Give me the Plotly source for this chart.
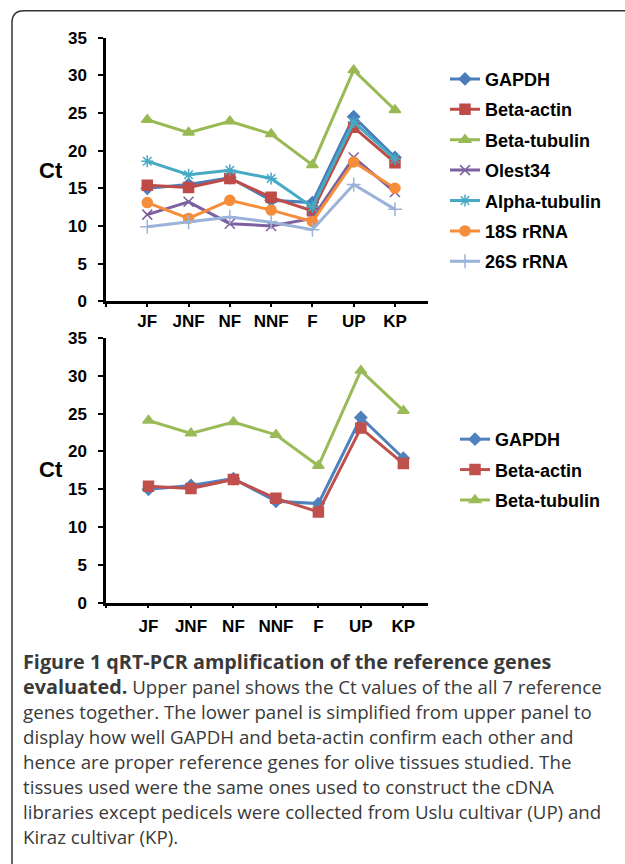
import plotly.graph_objects as go

categories = ["JF", "JNF", "NF", "NNF", "F", "UP", "KP"]

gapdh = [15.0, 15.5, 16.4, 13.4, 13.1, 24.5, 19.1]
beta_actin = [15.4, 15.1, 16.3, 13.8, 12.0, 23.1, 18.4]
beta_tubulin = [24.1, 22.4, 23.9, 22.2, 18.1, 30.7, 25.4]
olest34 = [11.5, 13.2, 10.3, 10.0, 11.0, 19.1, 14.5]
alpha_tubulin = [18.6, 16.8, 17.4, 16.3, 12.5, 23.8, 18.9]
rrna18s = [13.1, 11.0, 13.4, 12.1, 10.6, 18.5, 15.0]
rrna26s = [9.9, 10.5, 11.2, 10.5, 9.5, 15.5, 12.2]

y_ticks = [0, 5, 10, 15, 20, 25, 30, 35]

BIG = '<span style="font-size:19.8px">'
caption_lines = [
    BIG + "<b>Figure 1 qRT-PCR amplification of the reference genes</b></span>",
    BIG + "<b>evaluated.</b></span> Upper panel shows the Ct values of the all 7 reference",
    "genes together. The lower panel is simplified from upper panel to",
    "display how well GAPDH and beta-actin confirm each other and",
    "hence are proper reference genes for olive tissues studied. The",
    "tissues used were the same ones used to construct the cDNA",
    "libraries except pedicels were collected from Uslu cultivar (UP) and",
    "Kiraz cultivar (KP).",
]

W, H = 625, 864
A, S = 8.2, 0.98
def px(x):
    return x / W
def py(y):
    return 1 - ((y - A) / S) / H

xi = list(range(len(categories)))

upper = [
    ("GAPDH", gapdh, "#4A7EBB", "diamond", 9),
    ("Beta-actin", beta_actin, "#BE4B48", "square", 10),
    ("Beta-tubulin", beta_tubulin, "#98B954", "triangle-up", 10),
    ("Olest34", olest34, "#7D60A0", "x-thin-open", 10),
    ("Alpha-tubulin", alpha_tubulin, "#46AAC5", "asterisk-open", 10),
    ("18S rRNA", rrna18s, "#F68D3B", "circle", 10),
    ("26S rRNA", rrna26s, "#9BB3D9", "cross-thin-open", 10),
]
lower = upper[:3]
lower_colors = ["#4F81BD", "#C0504D", "#9BBB59"]

fig = go.Figure()
for i, (name, vals, col, sym, sz) in enumerate(upper):
    fig.add_trace(go.Scatter(
        x=xi, y=vals, name=name, mode="lines+markers",
        line=dict(color=col, width=3),
        marker=dict(symbol=sym, size=sz, color=col, line=dict(color=col, width=1.5)),
        xaxis="x", yaxis="y", legend="legend", legendgroup="u" + str(i),
    ))
for i, (name, vals, col, sym, sz) in enumerate(lower):
    c = lower_colors[i]
    fig.add_trace(go.Scatter(
        x=xi, y=vals, name=name, mode="lines+markers",
        line=dict(color=c, width=3),
        marker=dict(symbol=sym, size=sz, color=c, line=dict(color=c, width=1.5)),
        xaxis="x2", yaxis="y2", legend="legend2", legendgroup="l" + str(i),
    ))

tickfont = dict(family="Arial, Liberation Sans", size=17, color="black", weight="bold")
xdom = [px(106), px(428)]

def xaxis(anchor, rng, standoff):
    return dict(
        domain=xdom, anchor=anchor, range=rng,
        tickmode="array", tickvals=[-1] + xi, ticktext=[""] + categories,
        ticks="outside", ticklen=3, tickwidth=2, tickcolor="black",
        showline=True, linecolor="black", linewidth=2.5,
        showgrid=False, zeroline=False, tickfont=tickfont, ticklabelstandoff=standoff,
    )

def yaxis(anchor, dom):
    return dict(
        domain=dom, anchor=anchor, range=[0, 35],
        tickmode="array", tickvals=y_ticks,
        ticks="outside", ticklen=5, tickwidth=2, tickcolor="black",
        showline=True, linecolor="black", linewidth=2.5,
        showgrid=False, zeroline=False, tickfont=tickfont, ticklabelstandoff=8,
    )

legfont = dict(family="Arial, Liberation Sans", size=18, color="black", weight="bold")
ctfont = dict(family="Arial, Liberation Sans", size=22, color="black", weight="bold")

annotations = [
    dict(text="Ct", x=px(51), y=py(170), xref="paper", yref="paper",
         xanchor="center", yanchor="middle", showarrow=False, font=ctfont),
    dict(text="Ct", x=px(51), y=py(470), xref="paper", yref="paper",
         xanchor="center", yanchor="middle", showarrow=False, font=ctfont),
]
line_y = [662, 687, 712, 737, 762, 787, 812, 837]
for ln, yy in zip(caption_lines, line_y):
    annotations.append(dict(
        text=ln, x=px(21), y=py(yy), xref="paper", yref="paper",
        xanchor="left", yanchor="middle", showarrow=False,
        font=dict(family="Open Sans", size=18.7, color="#3a3a3a"),
    ))

r = 12
x0, y0 = 12, 10
x1, y1 = 660, 900
path = (f"M {px(x0)},{py(y1)} L {px(x0)},{py(y0 + r)} "
        f"Q {px(x0)},{py(y0)} {px(x0 + r)},{py(y0)} L {px(x1)},{py(y0)}")

fig.update_layout(
    width=W, height=H, margin=dict(l=0, r=0, t=0, b=0),
    paper_bgcolor="white", plot_bgcolor="white",
    xaxis=xaxis("y", [-1, 6.8], 0),
    yaxis=yaxis("x", [py(301), py(37)]),
    xaxis2=xaxis("y2", [-1, 6.58], 3),
    yaxis2=yaxis("x2", [py(603), py(338)]),
    legend=dict(x=px(445), y=py(60), xanchor="left", yanchor="top",
                font=legfont, tracegroupgap=4, bgcolor="rgba(0,0,0,0)"),
    legend2=dict(x=px(455), y=py(421), xanchor="left", yanchor="top",
                 font=legfont, tracegroupgap=4, bgcolor="rgba(0,0,0,0)"),
    annotations=annotations,
    shapes=[dict(type="path", path=path, xref="paper", yref="paper",
                 line=dict(color="#333333", width=1.5))],
    showlegend=True,
)

post = "document.body.style.margin='0';"
fig.write_html("out.html", config={"displayModeBar": False}, post_script=post)
